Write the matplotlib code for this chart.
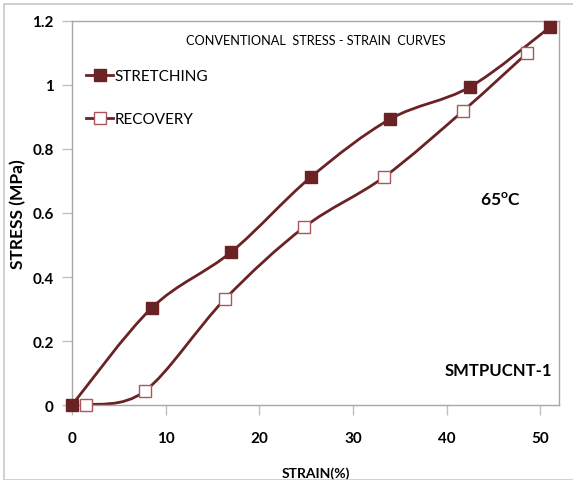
import matplotlib

matplotlib.use('Agg')
import matplotlib.pyplot as plt
import numpy as np
from matplotlib.path import Path
from matplotlib.patches import PathPatch, Rectangle
from matplotlib.lines import Line2D

plt.rcParams['font.family'] = ['Lato', 'DejaVu Sans']

# data
stretch_strain = [0, 8.5, 17.0, 25.5, 34.0, 42.5, 51.0]
stretch_stress = [0, 0.303, 0.478, 0.712, 0.894, 0.994, 1.18]
recov_strain = [1.5, 7.8, 16.3, 24.8, 33.3, 41.8, 48.6]
recov_stress = [0, 0.044, 0.33, 0.556, 0.712, 0.92, 1.10]

x_ticks = [0, 10, 20, 30, 40, 50]
y_ticks = [0, 0.2, 0.4, 0.6, 0.8, 1.0, 1.2]
y_tick_labels = ['0', '0.2', '0.4', '0.6', '0.8', '1', '1.2']

dark = '#6b2224'
edge_light = '#a8585a'


def smooth_path(xs, ys):
    # Excel-like smoothed line: cubic bezier segments through the points
    p = np.column_stack([xs, ys]).astype(float)
    n = len(p)
    verts = [p[0]]
    codes = [Path.MOVETO]
    for i in range(n - 1):
        p0 = p[i - 1] if i > 0 else p[i]
        p1 = p[i]
        p2 = p[i + 1]
        p3 = p[i + 2] if i + 2 < n else p[i + 1]
        c1 = p1 + (p2 - p0) / 6.0
        c2 = p2 - (p3 - p1) / 6.0
        verts += [c1, c2, p2]
        codes += [Path.CURVE4] * 3
    return Path(verts, codes)


fig = plt.figure(figsize=(5.73, 4.81), dpi=100)
fig.patches.append(Rectangle((4 / 573, 0), 1.0, 1 - 5 / 481, transform=fig.transFigure,
                             fill=False, edgecolor='#c8c8c8', lw=1.2))
ax = fig.add_axes([72 / 573, 1 - 406 / 481, (559 - 72) / 573, (406 - 22) / 481])

for xs, ys in [(stretch_strain, stretch_stress), (recov_strain, recov_stress)]:
    ax.add_patch(PathPatch(smooth_path(xs, ys), facecolor='none', edgecolor=dark, lw=2.0, zorder=2))

ax.plot(stretch_strain, stretch_stress, ls='none', marker='s', ms=9, mfc=dark, mec=dark,
        zorder=3, clip_on=False)
ax.plot(recov_strain, recov_stress, ls='none', marker='s', ms=9, mfc='white', mec=edge_light,
        mew=1.0, zorder=3, clip_on=False)

ax.set_xlim(0, 52)
ax.set_ylim(0, 1.2)
ax.set_xticks(x_ticks)
ax.set_yticks(y_ticks)
ax.set_yticklabels(y_tick_labels)
ax.tick_params(axis='both', direction='out', length=7, color='#bfbfbf', width=1, labelsize=11)
ax.tick_params(axis='x', pad=12)
ax.tick_params(axis='y', pad=6)
for lab in ax.get_xticklabels() + ax.get_yticklabels():
    lab.set_fontweight('bold')
for s in ax.spines.values():
    s.set_color('#a6a6a6')
    s.set_linewidth(1)

ax.set_xlabel('STRAIN(%)', fontsize=10, fontweight='bold')
ax.xaxis.set_label_coords(0.5, -0.16)
ax.set_ylabel('STRESS (MPa)', fontsize=12.5, fontweight='bold')
ax.yaxis.set_label_coords(-0.094, 0.5)

ax.text(0.5, 0.95, 'CONVENTIONAL  STRESS - STRAIN  CURVES', transform=ax.transAxes,
        ha='center', va='center', fontsize=9.2)
ax.text(0.88, 0.535, '65$^{\\mathregular{o}}$C', transform=ax.transAxes, ha='center', va='center',
        fontsize=12.5, fontweight='bold')
ax.text(0.985, 0.09, 'SMTPUCNT-1', transform=ax.transAxes, ha='right', va='center',
        fontsize=12, fontweight='bold')

handles = [
    Line2D([], [], color=dark, lw=2, marker='s', ms=9, mfc=dark, mec=dark),
    Line2D([], [], color=dark, lw=2, marker='s', ms=9, mfc='white', mec=edge_light, mew=1.0),
]
leg = ax.legend(handles, ['STRETCHING', 'RECOVERY'], loc='upper left', bbox_to_anchor=(0.0, 0.91),
                frameon=False, fontsize=11, handlelength=1.8, handletextpad=0.1,
                labelspacing=1.9, borderaxespad=0.5)

fig.savefig('out.png', dpi=100)
